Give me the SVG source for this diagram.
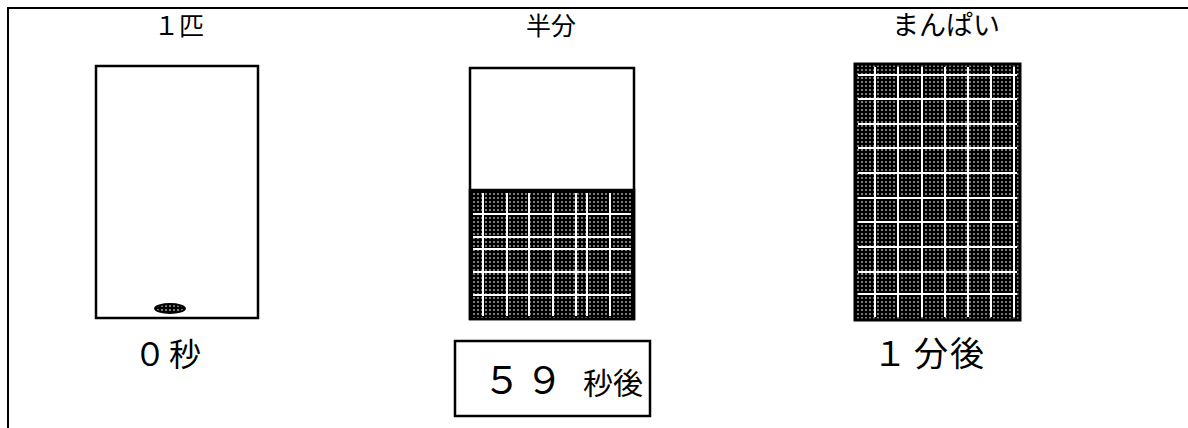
<svg xmlns="http://www.w3.org/2000/svg" width="1188" height="428" viewBox="0 0 1188 428">
<defs>
<pattern id="tex" width="4" height="4" patternUnits="userSpaceOnUse">
<rect width="4" height="4" fill="#000"/>
<rect x="1" y="1" width="2" height="2" fill="#7a7a7a"/>
</pattern>
</defs>
<style>
.box{fill:#fff;stroke:#000;stroke-width:2.5}
.lbl{font-family:"Noto Sans CJK JP","Noto Sans CJK SC",sans-serif;fill:#000;text-anchor:middle}
.grid line{stroke:#fff;stroke-width:1.5;shape-rendering:crispEdges}
.frame{stroke:#000;stroke-width:2;fill:none}
</style>
<g id="frame"><path class="frame" d="M8,428 V8 H1188"/></g>

<g id="node-one">
<text class="lbl" x="179" y="35" font-size="25">１匹</text>
<rect class="box" x="96" y="66" width="162" height="252"/>
<ellipse cx="170" cy="308.5" rx="15" ry="4.5" fill="url(#tex)" stroke="#000" stroke-width="1.8"/>
<text class="lbl" font-size="32" y="366"><tspan x="150">０</tspan><tspan x="185">秒</tspan></text>
</g>

<g id="node-half">
<text class="lbl" x="551" y="35" font-size="25">半分</text>
<rect class="box" x="470" y="68" width="164" height="251"/>
<rect x="470" y="190" width="164" height="129" fill="url(#tex)" stroke="#000" stroke-width="2.5"/>
<g class="grid">
<line x1="483" y1="193" x2="483" y2="316"/>
<line x1="507" y1="193" x2="507" y2="316"/>
<line x1="529" y1="193" x2="529" y2="316"/>
<line x1="553" y1="193" x2="553" y2="316"/>
<line x1="576" y1="193" x2="576" y2="316"/>
<line x1="587" y1="193" x2="587" y2="316"/>
<line x1="610" y1="193" x2="610" y2="316"/>
<line x1="473" y1="214" x2="631" y2="214"/>
<line x1="473" y1="237" x2="631" y2="237"/>
<line x1="473" y1="249" x2="631" y2="249"/>
<line x1="473" y1="272" x2="631" y2="272"/>
<line x1="473" y1="295" x2="631" y2="295"/>
</g>
<rect class="box" x="455" y="341" width="195" height="75"/>
<text class="lbl" y="394"><tspan x="502" font-size="38">５</tspan><tspan x="546" font-size="38">９</tspan> <tspan x="613" font-size="30">秒後</tspan></text>
</g>

<g id="node-full">
<text class="lbl" x="946" y="35" font-size="27">まんぱい</text>
<rect x="855" y="64" width="165" height="256" fill="url(#tex)" stroke="#000" stroke-width="3"/>
<g class="grid">
<line x1="875" y1="67" x2="875" y2="317"/>
<line x1="898" y1="67" x2="898" y2="317"/>
<line x1="922" y1="67" x2="922" y2="317"/>
<line x1="945" y1="67" x2="945" y2="317"/>
<line x1="968" y1="67" x2="968" y2="317"/>
<line x1="991" y1="67" x2="991" y2="317"/>
<line x1="1014" y1="67" x2="1014" y2="317"/>
<line x1="858" y1="75" x2="1017" y2="75"/>
<line x1="858" y1="99" x2="1017" y2="99"/>
<line x1="858" y1="124" x2="1017" y2="124"/>
<line x1="858" y1="148" x2="1017" y2="148"/>
<line x1="858" y1="173" x2="1017" y2="173"/>
<line x1="858" y1="198" x2="1017" y2="198"/>
<line x1="858" y1="222" x2="1017" y2="222"/>
<line x1="858" y1="247" x2="1017" y2="247"/>
<line x1="858" y1="272" x2="1017" y2="272"/>
<line x1="858" y1="294" x2="1017" y2="294"/>
</g>
<text class="lbl" font-size="34" y="366"><tspan x="890">１</tspan><tspan x="931">分</tspan><tspan x="967">後</tspan></text>
</g>
</svg>
